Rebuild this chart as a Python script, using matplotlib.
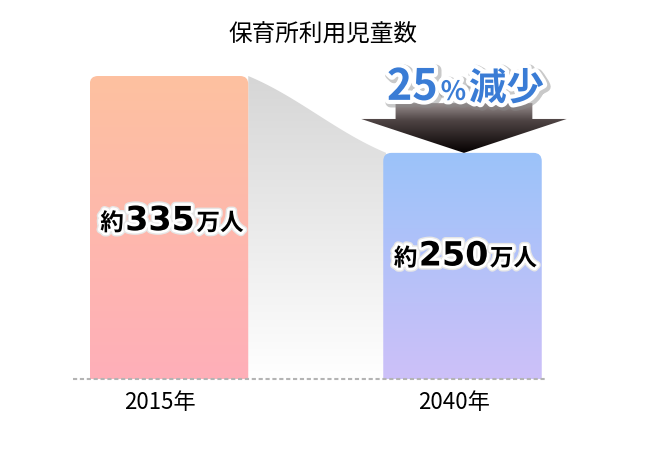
import numpy as np
import matplotlib.pyplot as plt
from matplotlib.patches import FancyBboxPatch, Polygon
from matplotlib.colors import LinearSegmentedColormap
from matplotlib import patheffects as pe
from matplotlib.offsetbox import TextArea, HPacker, AnnotationBbox

plt.rcParams['font.family'] = ['Noto Sans CJK JP', 'DejaVu Sans']

# データ
title = '保育所利用児童数'
years = ['2015年', '2040年']
values = [335, 250]
prefix = '約'
suffix = '万人'
drop_pct = '25'
drop_word = '減少'
top_colors = ['#fdc1a0', '#9bc3fa']
bottom_colors = ['#ffafb9', '#cdc0f8']

# 座標系: 1 単位 = y 方向 ky px, x 方向 kx px
kx = 293.5
ky = 303 / 335
fig = plt.figure(figsize=(6.61, 4.53), dpi=100)
ax = fig.add_axes([0, 0, 1, 1])
ax.axis('off')

xs = np.arange(len(values))
w = 0.54


def gradient(clip, extent, c_bot, c_top, z, stops=None):
    if stops is None:
        cmap = LinearSegmentedColormap.from_list('g', [c_bot, c_top])
    else:
        cmap = LinearSegmentedColormap.from_list('g', stops)
    img = ax.imshow(np.linspace(0, 1, 256).reshape(-1, 1), cmap=cmap,
                    extent=extent, origin='lower', aspect='auto',
                    interpolation='bicubic', zorder=z)
    img.set_clip_path(clip)


# 棒グラフ (上だけ角丸)
for i, v in enumerate(values):
    box = FancyBboxPatch((xs[i] - w / 2, -40), w, v + 40,
                         boxstyle='round,pad=0,rounding_size=0.028',
                         mutation_aspect=kx / ky, fc='none', ec='none')
    ax.add_patch(box)
    gradient(box, (xs[i] - w / 2, xs[i] + w / 2, 0, v),
             bottom_colors[i], top_colors[i], 3)

# 間のグレーの領域
x0 = xs[0] + w / 2
x1 = xs[1] - w / 2 + 0.01
s = np.linspace(0, 1, 120)
f = 0.75 * s + 0.25 * (1 - np.cos(np.pi * s)) / 2
cx = x0 + (x1 - x0) * s
cy = values[0] + (values[1] - values[0]) * f
area = Polygon(np.column_stack([np.r_[cx, x1, x0], np.r_[cy, 0, 0]]),
               fc='none', ec='none')
ax.add_patch(area)
gradient(area, (x0, x1, 0, values[0]), '#ffffff', '#d6d6d6', 2)

# 矢印
ax_c = xs[1] + 0.005
tip = values[1]
base = values[1] + 37.5
top = values[1] + 55
arrow = Polygon([(ax_c - 0.233, top), (ax_c + 0.233, top), (ax_c + 0.233, base),
                 (ax_c + 0.35, base), (ax_c, tip), (ax_c - 0.35, base),
                 (ax_c - 0.233, base)], fc='none', ec='none')
ax.add_patch(arrow)
gradient(arrow, (ax_c - 0.35, ax_c + 0.35, tip, top), None, None, 4,
         stops=[(0, '#050000'), (0.65, '#4e4444'), (1, '#9a9090')])

# 基準線
ax.plot([-0.327, 1.288], [0, 0], color='#b4b4b4', lw=1.5,
        ls=(0, (2, 1.3)), zorder=6)

# 25%減少
blue = '#3a7cd5'
fx_big = [pe.Stroke(offset=(1.5, -1.5), linewidth=8, foreground='#888888', alpha=0.45),
          pe.Stroke(linewidth=6, foreground='white'), pe.Normal()]
parts = [TextArea(drop_pct, textprops=dict(size=31, weight='bold', color=blue,
                                           path_effects=fx_big)),
         TextArea('%', textprops=dict(size=19, weight='bold', color=blue,
                                      path_effects=fx_big)),
         TextArea(drop_word, textprops=dict(size=27, weight='bold', color=blue,
                                            path_effects=fx_big))]
pack = HPacker(children=parts, align='baseline', pad=0, sep=2)
ax.add_artist(AnnotationBbox(pack, (ax_c + 0.005, values[1] + 73), frameon=False,
                             box_alignment=(0.5, 0.5), zorder=7))

# 棒の中のラベル
fx_lab = [pe.Stroke(linewidth=6, foreground='#e6e6e6'),
          pe.Stroke(linewidth=4, foreground='white'), pe.Normal()]
label_y = [175, 136]
for i, v in enumerate(values):
    kids = [TextArea(prefix, textprops=dict(size=17, weight='bold', color='black',
                                            path_effects=fx_lab)),
            TextArea(str(v), textprops=dict(size=24, weight='bold', color='black',
                                            family='DejaVu Sans', path_effects=fx_lab)),
            TextArea(suffix, textprops=dict(size=17, weight='bold', color='black',
                                            path_effects=fx_lab))]
    hp = HPacker(children=kids, align='baseline', pad=0, sep=1)
    ax.add_artist(AnnotationBbox(hp, (xs[i] + 0.01, label_y[i]), frameon=False,
                                 box_alignment=(0.5, 0.5), zorder=7))

# 年のラベル
for i, yr in enumerate(years):
    ax.text(xs[i] - 0.03, -26.5, yr, ha='center', va='center', fontsize=16)

fig.text(0.488, 1 - 35 / 453, title, ha='center', va='center', fontsize=17)

ax.set_xlim(-169 / kx, 492 / kx)
ax.set_ylim(-74 / ky, 379 / ky)
fig.savefig('out.png', dpi=100)
